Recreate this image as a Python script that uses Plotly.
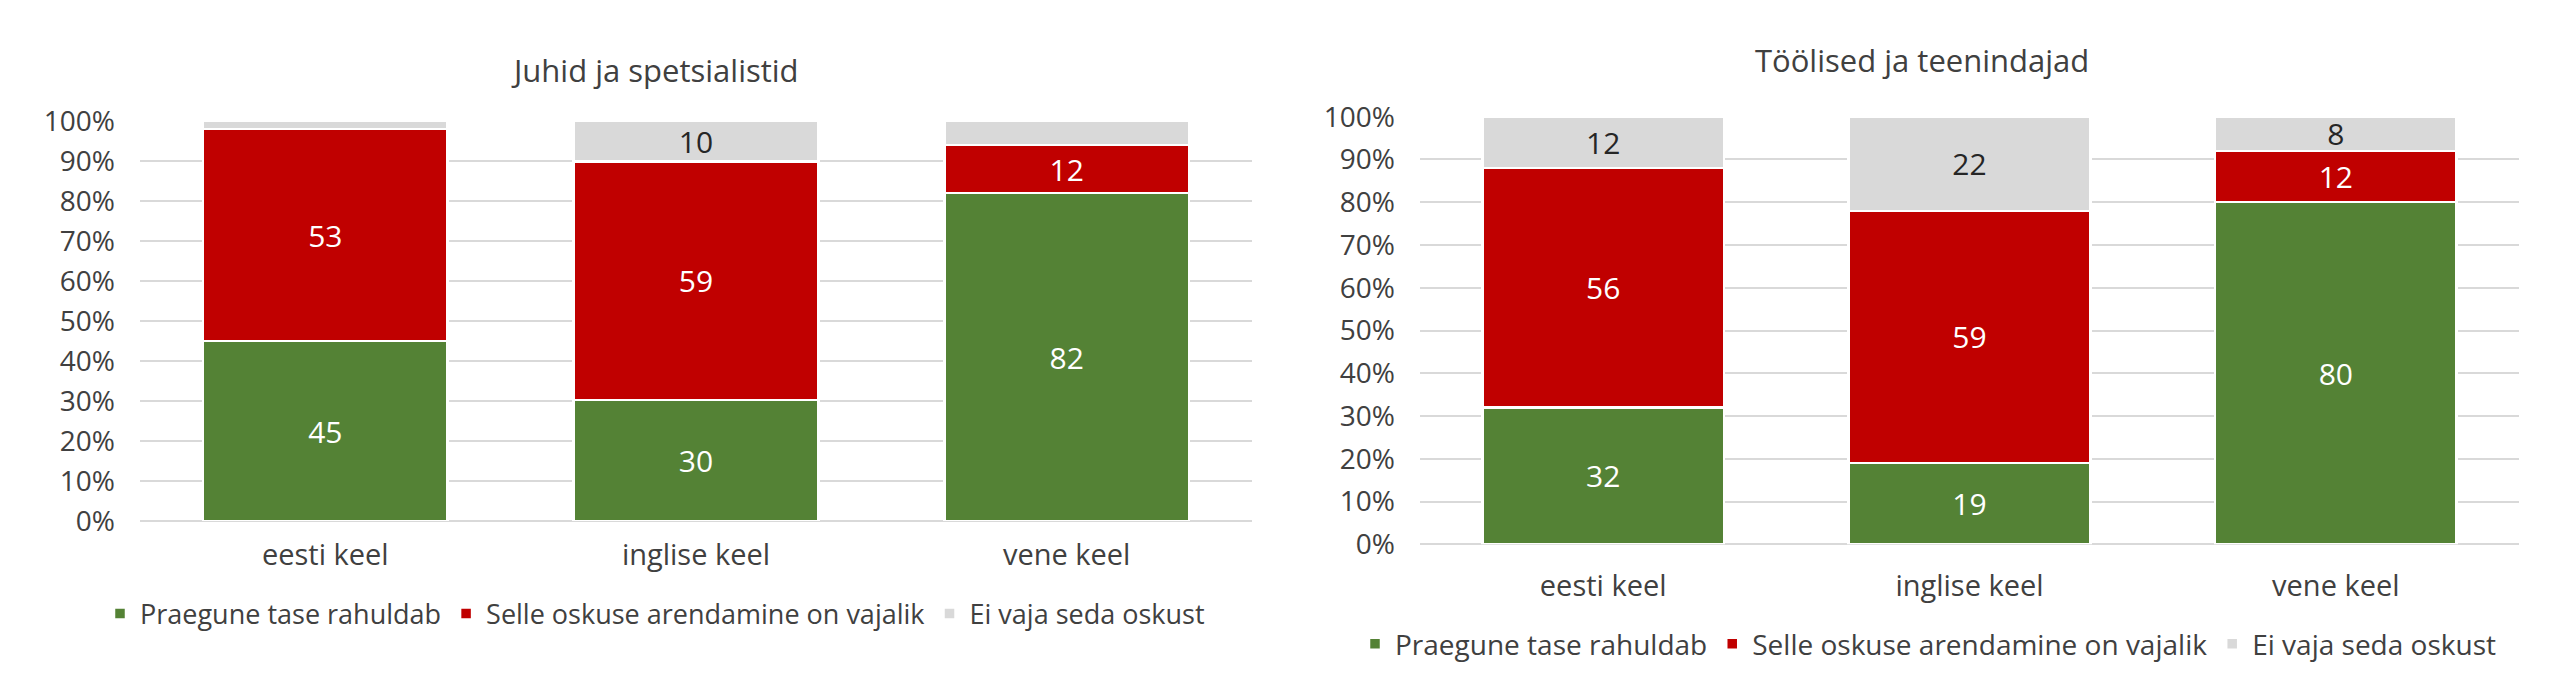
import plotly.graph_objects as go

# ---------------- data ----------------
categories = ["eesti keel", "inglise keel", "vene keel"]
series_names = ["Praegune tase rahuldab", "Selle oskuse arendamine on vajalik", "Ei vaja seda oskust"]

# Juhid ja spetsialistid
left_ok = [45, 30, 82]
left_dev = [53, 59, 12]
left_no = [2, 10, 6]
left_no_labelled = [False, True, False]

# Töölised ja teenindajad
right_ok = [32, 19, 80]
right_dev = [56, 59, 12]
right_no = [12, 22, 8]
right_no_labelled = [True, True, True]

title_left = "Juhid ja spetsialistid"
title_right = "Töölised ja teenindajad"
tick_vals = [0, 10, 20, 30, 40, 50, 60, 70, 80, 90, 100]
tick_text = [f"{v}%" for v in tick_vals]

# ---------------- style ----------------
W, H = 2560, 683
OFF = 8                      # page body margin
FW, FH = W - 2 * OFF, H - 2 * OFF
FONT = "Open Sans"
TXT = "#404040"
colors = ["#548235", "#c00000", "#d9d9d9"]
label_colors = ["white", "white", "#262626"]
GRID = "#d9d9d9"


def px_x(x):
    return (x - OFF) / FW


def px_y(y):
    return 1 - (y - OFF) / FH


fig = go.Figure()

panels = [
    dict(data=[left_ok, left_dev, left_no], masks=[[True] * 3, [True] * 3, left_no_labelled],
         xa="x", ya="y", legend="legend"),
    dict(data=[right_ok, right_dev, right_no], masks=[[True] * 3, [True] * 3, right_no_labelled],
         xa="x2", ya="y2", legend="legend2"),
]

for p in panels:
    for i, (vals, mask) in enumerate(zip(p["data"], p["masks"])):
        fig.add_trace(go.Bar(
            x=categories, y=vals, name=series_names[i],
            marker=dict(color=colors[i], line=dict(color="white", width=2.5)),
            text=[f"{v:.0f}" if m else "" for v, m in zip(vals, mask)],
            texttemplate="%{text}",
            textposition="inside", insidetextanchor="middle", textangle=0,
            textfont=dict(family=FONT, size=30, color=label_colors[i]),
            xaxis=p["xa"], yaxis=p["ya"], legend=p["legend"],
            showlegend=True, hoverinfo="skip",
        ))

yax = dict(range=[0, 100], tickmode="array", tickvals=tick_vals, ticktext=tick_text,
           showgrid=True, gridcolor=GRID, gridwidth=2, zeroline=True, zerolinecolor=GRID,
           zerolinewidth=2, showline=False, ticks="", ticklabelstandoff=24,
           tickfont=dict(family=FONT, size=28, color=TXT), fixedrange=True, automargin=False)
xax = dict(showgrid=False, zeroline=False, showline=False, ticks="",
           tickfont=dict(family=FONT, size=29, color=TXT),
           fixedrange=True, automargin=False)

fig.update_layout(
    width=FW, height=FH,
    margin=dict(l=0, r=0, t=0, b=0, pad=0, autoexpand=False),
    paper_bgcolor="white", plot_bgcolor="white",
    barmode="stack", barnorm="percent", bargap=0.34,
    uniformtext=dict(minsize=30, mode="show"),
    font=dict(family=FONT, color=TXT),
    xaxis=dict(domain=[px_x(140), px_x(1252)], anchor="y", ticklabelstandoff=14, **xax),
    yaxis=dict(domain=[px_y(521), px_y(121)], anchor="x", **yax),
    xaxis2=dict(domain=[px_x(1420), px_x(2519)], anchor="y2", ticklabelstandoff=22, **xax),
    yaxis2=dict(domain=[px_y(544.3), px_y(116.7)], anchor="x2", **yax),
    legend=dict(orientation="h", x=px_x(655), xanchor="center", y=px_y(614), yanchor="middle",
                font=dict(family=FONT, size=27, color=TXT), bgcolor="rgba(0,0,0,0)",
                traceorder="normal", itemclick=False, itemdoubleclick=False),
    legend2=dict(orientation="h", x=px_x(1928), xanchor="center", y=px_y(644), yanchor="middle",
                 font=dict(family=FONT, size=28, color=TXT), bgcolor="rgba(0,0,0,0)",
                 traceorder="normal", itemclick=False, itemdoubleclick=False),
    annotations=[
        dict(text=title_left, x=px_x(655), y=px_y(70), xref="paper", yref="paper",
             xanchor="center", yanchor="middle", showarrow=False,
             font=dict(family=FONT, size=31, color=TXT)),
        dict(text=title_right, x=px_x(1922), y=px_y(60), xref="paper", yref="paper",
             xanchor="center", yanchor="middle", showarrow=False,
             font=dict(family=FONT, size=31, color=TXT)),
    ],
)

fig.write_html("out.html", config={"displayModeBar": False})
